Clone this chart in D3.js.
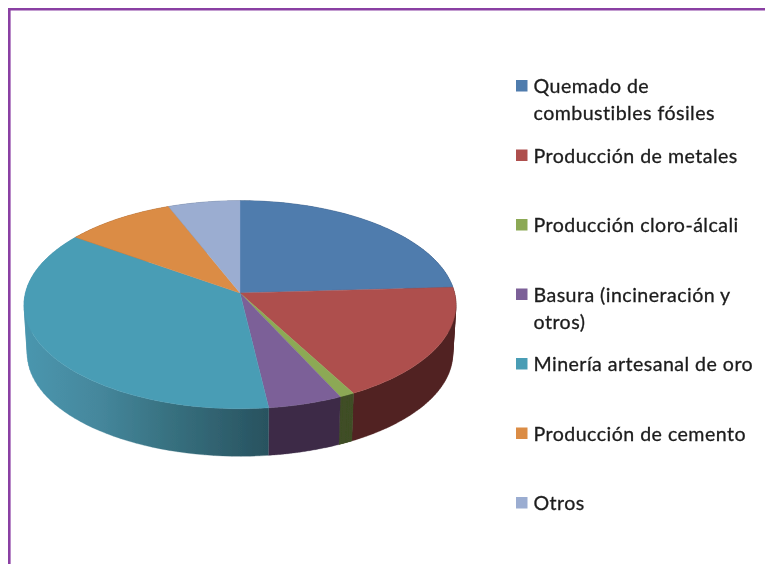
<!DOCTYPE html>
<html>
<head>
<meta charset="utf-8">
<script src="https://cdn.jsdelivr.net/npm/d3@7"></script>
<style>
html,body{margin:0;padding:0;background:#fff;overflow:hidden}
svg{display:block}
text{font-family:Lato,"Open Sans",sans-serif;font-size:19.6px;font-weight:400;letter-spacing:0.46px;fill:#1c1c1c;stroke:#1c1c1c;stroke-width:0.3px}
</style>
</head>
<body>
<script>
const categories = ["Quemado de combustibles fósiles","Producción de metales","Producción cloro-álcali","Basura (incineración y otros)","Minería artesanal de oro","Producción de cemento","Otros"];
const legendLines = [["Quemado de","combustibles fósiles"],["Producción de metales"],["Producción cloro-álcali"],["Basura (incineración y","otros)"],["Minería artesanal de oro"],["Producción de cemento"],["Otros"]];
const values = [24.1,18.0,1.0,5.0,36.7,9.2,6.0];
const topColors = ["#4F7BAD","#AE504E","#8CA955","#7C6098","#4A9DB5","#DB8C45","#9BADD1"];
const sideColors = ["#2C4563","#512321","#3F4E25","#3D2C47","#33697A","#8A5628","#5D6B85"];

const W=765,H=564;
const svg=d3.select("body").append("svg").attr("width",W).attr("height",H);
const defs=svg.append("defs");
defs.append("filter").attr("id","softer").attr("x","-5%").attr("y","-5%").attr("width","110%").attr("height","110%")
  .append("feGaussianBlur").attr("stdDeviation",0.45);
const tealGrad=defs.append("linearGradient").attr("id","tealSide").attr("gradientUnits","userSpaceOnUse")
  .attr("x1",26).attr("x2",269).attr("y1",0).attr("y2",0);
[[0,"#4A96AE"],[0.3,"#45879C"],[0.6,"#37707F"],[1,"#28525F"]].forEach(s=>tealGrad.append("stop").attr("offset",s[0]).attr("stop-color",s[1]));

// border
const border=svg.append("g").attr("filter","url(#softer)").attr("stroke","#8A3FA3").attr("stroke-width",2.6).attr("fill","none");
border.append("path").attr("d",d3.line()([[W+5,9.3],[9.3,9.3],[9.3,H+5]]));

// perspective-projected disc
const cx=240,cy=293,a=214.6,b=102.7,k=0.1125,depth=49.3,shrink=0.985;
const project=(ang)=>{
  const u=Math.sin(ang),v=-Math.cos(ang),d=1-k*v;
  return [a*u/d,b*v/d];
};
const topPt=ang=>{const p=project(ang);return [cx+p[0],cy+p[1]];};
const botPt=ang=>{const p=project(ang);return [cx+shrink*p[0],cy+depth+shrink*p[1]];};

const arcs=d3.pie().sort(null).value(d=>d)(values);
const samples=(s,e)=>d3.range(0,61).map(i=>s+(e-s)*i/60);
const line=d3.line();
const pie=svg.append("g").attr("filter","url(#softer)");

// side wall: one consistently wound quad per angular step
const wall=d=>{
  const t=samples(d.startAngle,d.endAngle);
  return d3.pairs(t).map(([s,e])=>{
    const q=[topPt(s),topPt(e),botPt(e),botPt(s)];
    if(d3.polygonArea(q)<0) q.reverse();
    return line(q)+"Z";
  }).join("");
};
pie.selectAll("path.side").data(arcs).join("path").attr("class","side")
  .attr("d",wall)
  .attr("fill",(d,i)=>i===4?"url(#tealSide)":sideColors[i])
  .attr("stroke",(d,i)=>i===4?"url(#tealSide)":sideColors[i]).attr("stroke-width",0.3);

// tops
pie.selectAll("path.top").data(arcs).join("path").attr("class","top")
  .attr("d",d=>line([[cx,cy]].concat(samples(d.startAngle,d.endAngle).map(topPt)))+"Z")
  .attr("fill",(d,i)=>topColors[i])
  .attr("stroke",(d,i)=>topColors[i]).attr("stroke-width",0.4);

// legend
const legendY=d3.scaleLinear().domain([0,6]).range([86,503]);
const leg=svg.append("g").attr("filter","url(#softer)");
const rows=leg.selectAll("g").data(categories).join("g").attr("transform",(d,i)=>`translate(516,${legendY(i)})`);
rows.append("rect").attr("x",0).attr("y",-6).attr("width",11.5).attr("height",11.5).attr("fill",(d,i)=>topColors[i]);
rows.append("text").attr("x",17.5).attr("y",7).each(function(d,i){
  d3.select(this).selectAll("tspan").data(legendLines[i]).join("tspan")
    .attr("x",17.5).attr("dy",(l,j)=>j?27:0).text(l=>l);
});
</script>
</body>
</html>
